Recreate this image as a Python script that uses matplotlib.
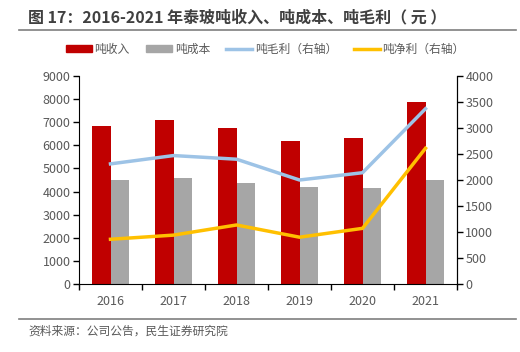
import matplotlib.pyplot as plt
import matplotlib.lines as mlines
import matplotlib.patches as mpatches
import numpy as np

plt.rcParams['font.family'] = ['Noto Sans CJK SC', 'DejaVu Sans']

years = ['2016', '2017', '2018', '2019', '2020', '2021']
revenue = [6830, 7100, 6750, 6190, 6320, 7870]      # 吨收入
cost = [4500, 4590, 4370, 4200, 4150, 4500]         # 吨成本
gross = [2310, 2470, 2400, 2000, 2140, 3370]        # 吨毛利 (右轴)
net = [860, 940, 1135, 900, 1070, 2610]             # 吨净利 (右轴)

RED = '#C00000'
GRAY = '#A6A6A6'
BLUE = '#9DC3E6'
YELLOW = '#FFC000'
TXT = '#595959'


def main():
    fig = plt.figure(figsize=(5.2, 3.52), dpi=100)
    ax = fig.add_axes([79 / 520, 1 - 284 / 352, 378 / 520, 208 / 352])
    ax2 = ax.twinx()

    x = np.arange(len(years))
    w = 0.29
    ax.bar(x - w / 2, revenue, w, color=RED, zorder=2)
    ax.bar(x + w / 2, cost, w, color=GRAY, zorder=2)
    ax2.plot(x, gross, color=BLUE, lw=2.5, zorder=3)
    ax2.plot(x, net, color=YELLOW, lw=2.5, zorder=3)

    ax.set_xlim(-0.5, len(years) - 0.5)
    ax.set_ylim(0, 9000)
    ax.set_yticks(range(0, 9001, 1000))
    ax2.set_ylim(0, 4000)
    ax2.set_yticks(range(0, 4001, 500))

    ax.set_xticks(x)
    ax.set_xticklabels(years)
    ax.set_xticks(np.arange(-0.5, len(years), 1), minor=True)
    ax.tick_params(axis='x', which='major', length=0, pad=8, labelsize=9, labelcolor=TXT)
    ax.tick_params(axis='x', which='minor', length=4, direction='out', width=1)
    ax.tick_params(axis='y', length=4, width=1, labelsize=9, labelcolor=TXT, pad=2)
    ax2.tick_params(axis='y', length=4, width=1, labelsize=9, labelcolor=TXT, pad=2)

    for a in (ax, ax2):
        a.spines['top'].set_visible(False)
    ax2.spines['left'].set_visible(False)
    ax2.spines['bottom'].set_visible(False)

    # legend
    handles = [
        mpatches.Patch(color=RED),
        mpatches.Patch(color=GRAY),
        mlines.Line2D([], [], color=BLUE, lw=2.5),
        mlines.Line2D([], [], color=YELLOW, lw=2.5),
    ]
    labels = ['吨收入', '吨成本', '吨毛利（右轴）', '吨净利（右轴）']
    fig.legend(handles, labels, loc='center', bbox_to_anchor=(0.51, 1 - 49 / 352),
               ncol=4, frameon=False, fontsize=8.5, handlelength=2.2, handleheight=0.5,
               handletextpad=0.2, columnspacing=1.4, labelcolor=TXT)

    # title and lines
    fig.text(28 / 520, 1 - 17 / 352, '图 17：2016-2021 年泰玻吨收入、吨成本、吨毛利（ 元 ）',
             fontsize=11.5, fontweight='bold', color='#404040', va='center', ha='left')
    fig.add_artist(mlines.Line2D([19 / 520, 516 / 520], [1 - 30 / 352] * 2, color='#7F7F7F', lw=1.2))
    fig.add_artist(mlines.Line2D([19 / 520, 516 / 520], [1 - 319 / 352] * 2, color='#7F7F7F', lw=1.2))
    fig.text(28 / 520, 1 - 331 / 352, '资料来源：公司公告，民生证券研究院',
             fontsize=8.5, color=TXT, va='center', ha='left')

    fig.savefig('out.png', dpi=100)


if __name__ == '__main__':
    main()
